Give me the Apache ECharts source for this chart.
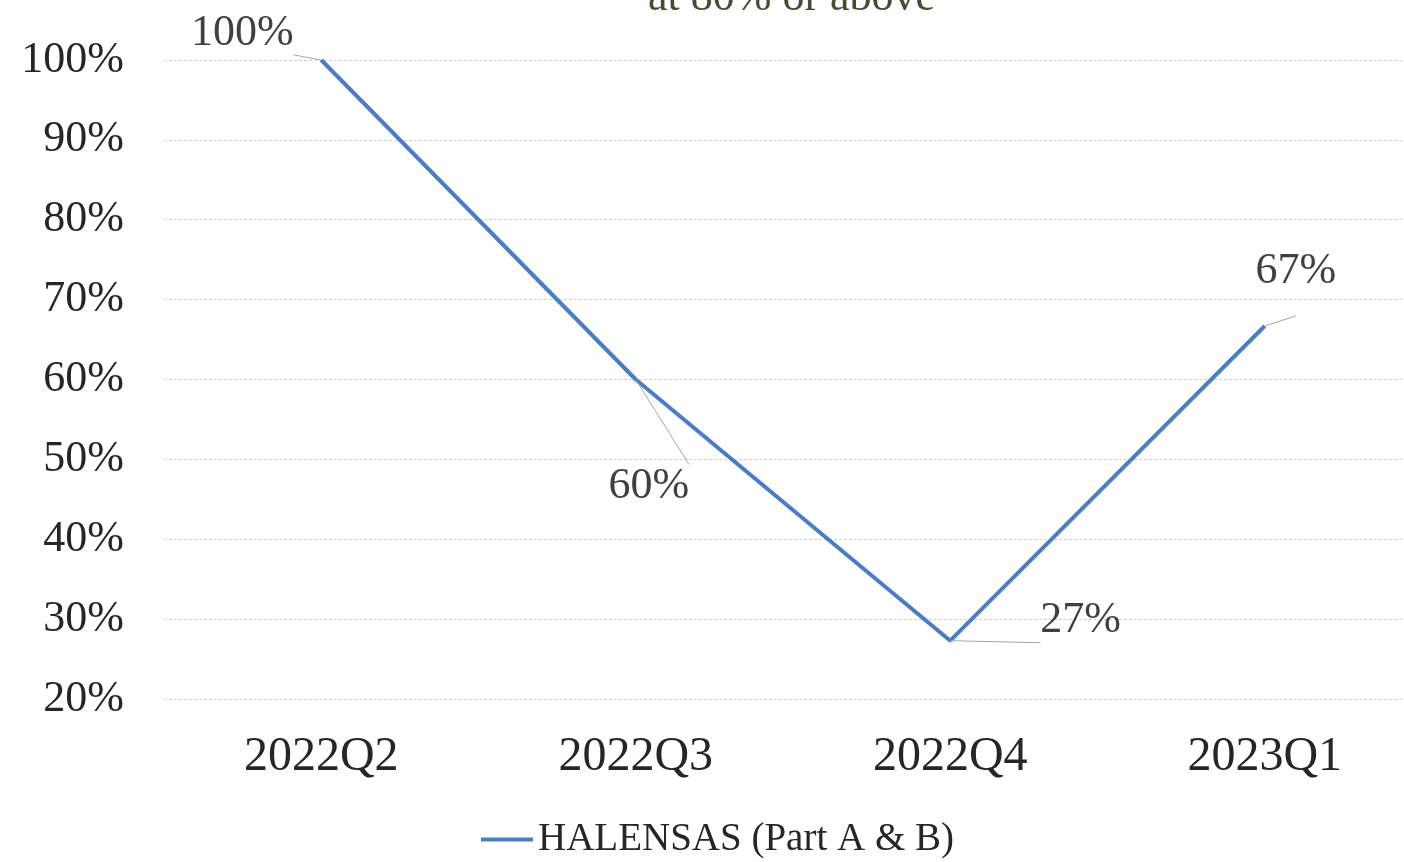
<!DOCTYPE html>
<html><head><meta charset="utf-8">
<script src="https://cdn.jsdelivr.net/npm/echarts@6/dist/echarts.min.js"></script>
<style>html,body{margin:0;padding:0;background:#fff;overflow:hidden;width:1404px;height:862px}#c{width:1422px;height:862px}</style>
</head><body><div id="c"></div>
<script>
var categories = ['2022Q2', '2022Q3', '2022Q4', '2023Q1'];
var seriesName = 'HALENSAS (Part A & B)';
var values = [1.0, 0.6, 0.273, 0.667];
var titleText = 'at 80% or above';
var yMin = 0.2, yMax = 1.0, yStep = 0.1;

var labelCfg = [
  {position: 'top', offset: [-79, 0]},
  {position: 'bottom', offset: [13, 80]},
  {position: 'right', offset: [85, -20]},
  {position: 'top', offset: [31, -27]}
];
var FONT = '"Liberation Serif", "DejaVu Serif", serif';
var chart = echarts.init(document.getElementById('c'));
chart.setOption({
  animation: false,
  title: {text: titleText, left: 643, top: -29,
    textStyle: {fontFamily: FONT, fontSize: 44, fontWeight: 'normal', color: '#4b4a2f', lineHeight: 44}},
  grid: {left: 164, right: 0, top: 60, bottom: 163},
  legend: {bottom: -2, left: 476, icon: 'rect', itemWidth: 52, itemHeight: 4, itemGap: 6,
    textStyle: {fontFamily: FONT, fontSize: 39, color: '#262626'}},
  xAxis: {type: 'category', data: categories, boundaryGap: true,
    axisLine: {show: false}, axisTick: {show: false},
    axisLabel: {fontFamily: FONT, fontSize: 48, color: '#262626', margin: 34}},
  yAxis: {type: 'value', min: yMin, max: yMax, interval: yStep,
    axisLine: {show: false}, axisTick: {show: false},
    axisLabel: {fontFamily: FONT, fontSize: 44, color: '#262626', margin: 40,
      formatter: function(v){ return Math.round(v*100) + '%'; }},
    splitLine: {lineStyle: {color: '#cfcfcf', type: [3, 2], width: 1}}},
  series: [{
    name: seriesName, type: 'line', showSymbol: true, symbol: 'circle', symbolSize: 0.1,
    lineStyle: {color: '#4a7ec4', width: 4}, itemStyle: {color: '#4a7ec4'},
    data: values.map(function(v, i){
      return {value: v, label: {show: true, position: labelCfg[i].position, offset: labelCfg[i].offset}};
    }),
    label: {show: true, fontFamily: FONT, fontSize: 44, color: '#404040',
      formatter: function(p){ return Math.round(p.value*100) + '%'; }},
    labelLine: {show: true, lineStyle: {color: '#a6a6a6', width: 1}}
  }]
});
</script></body></html>
